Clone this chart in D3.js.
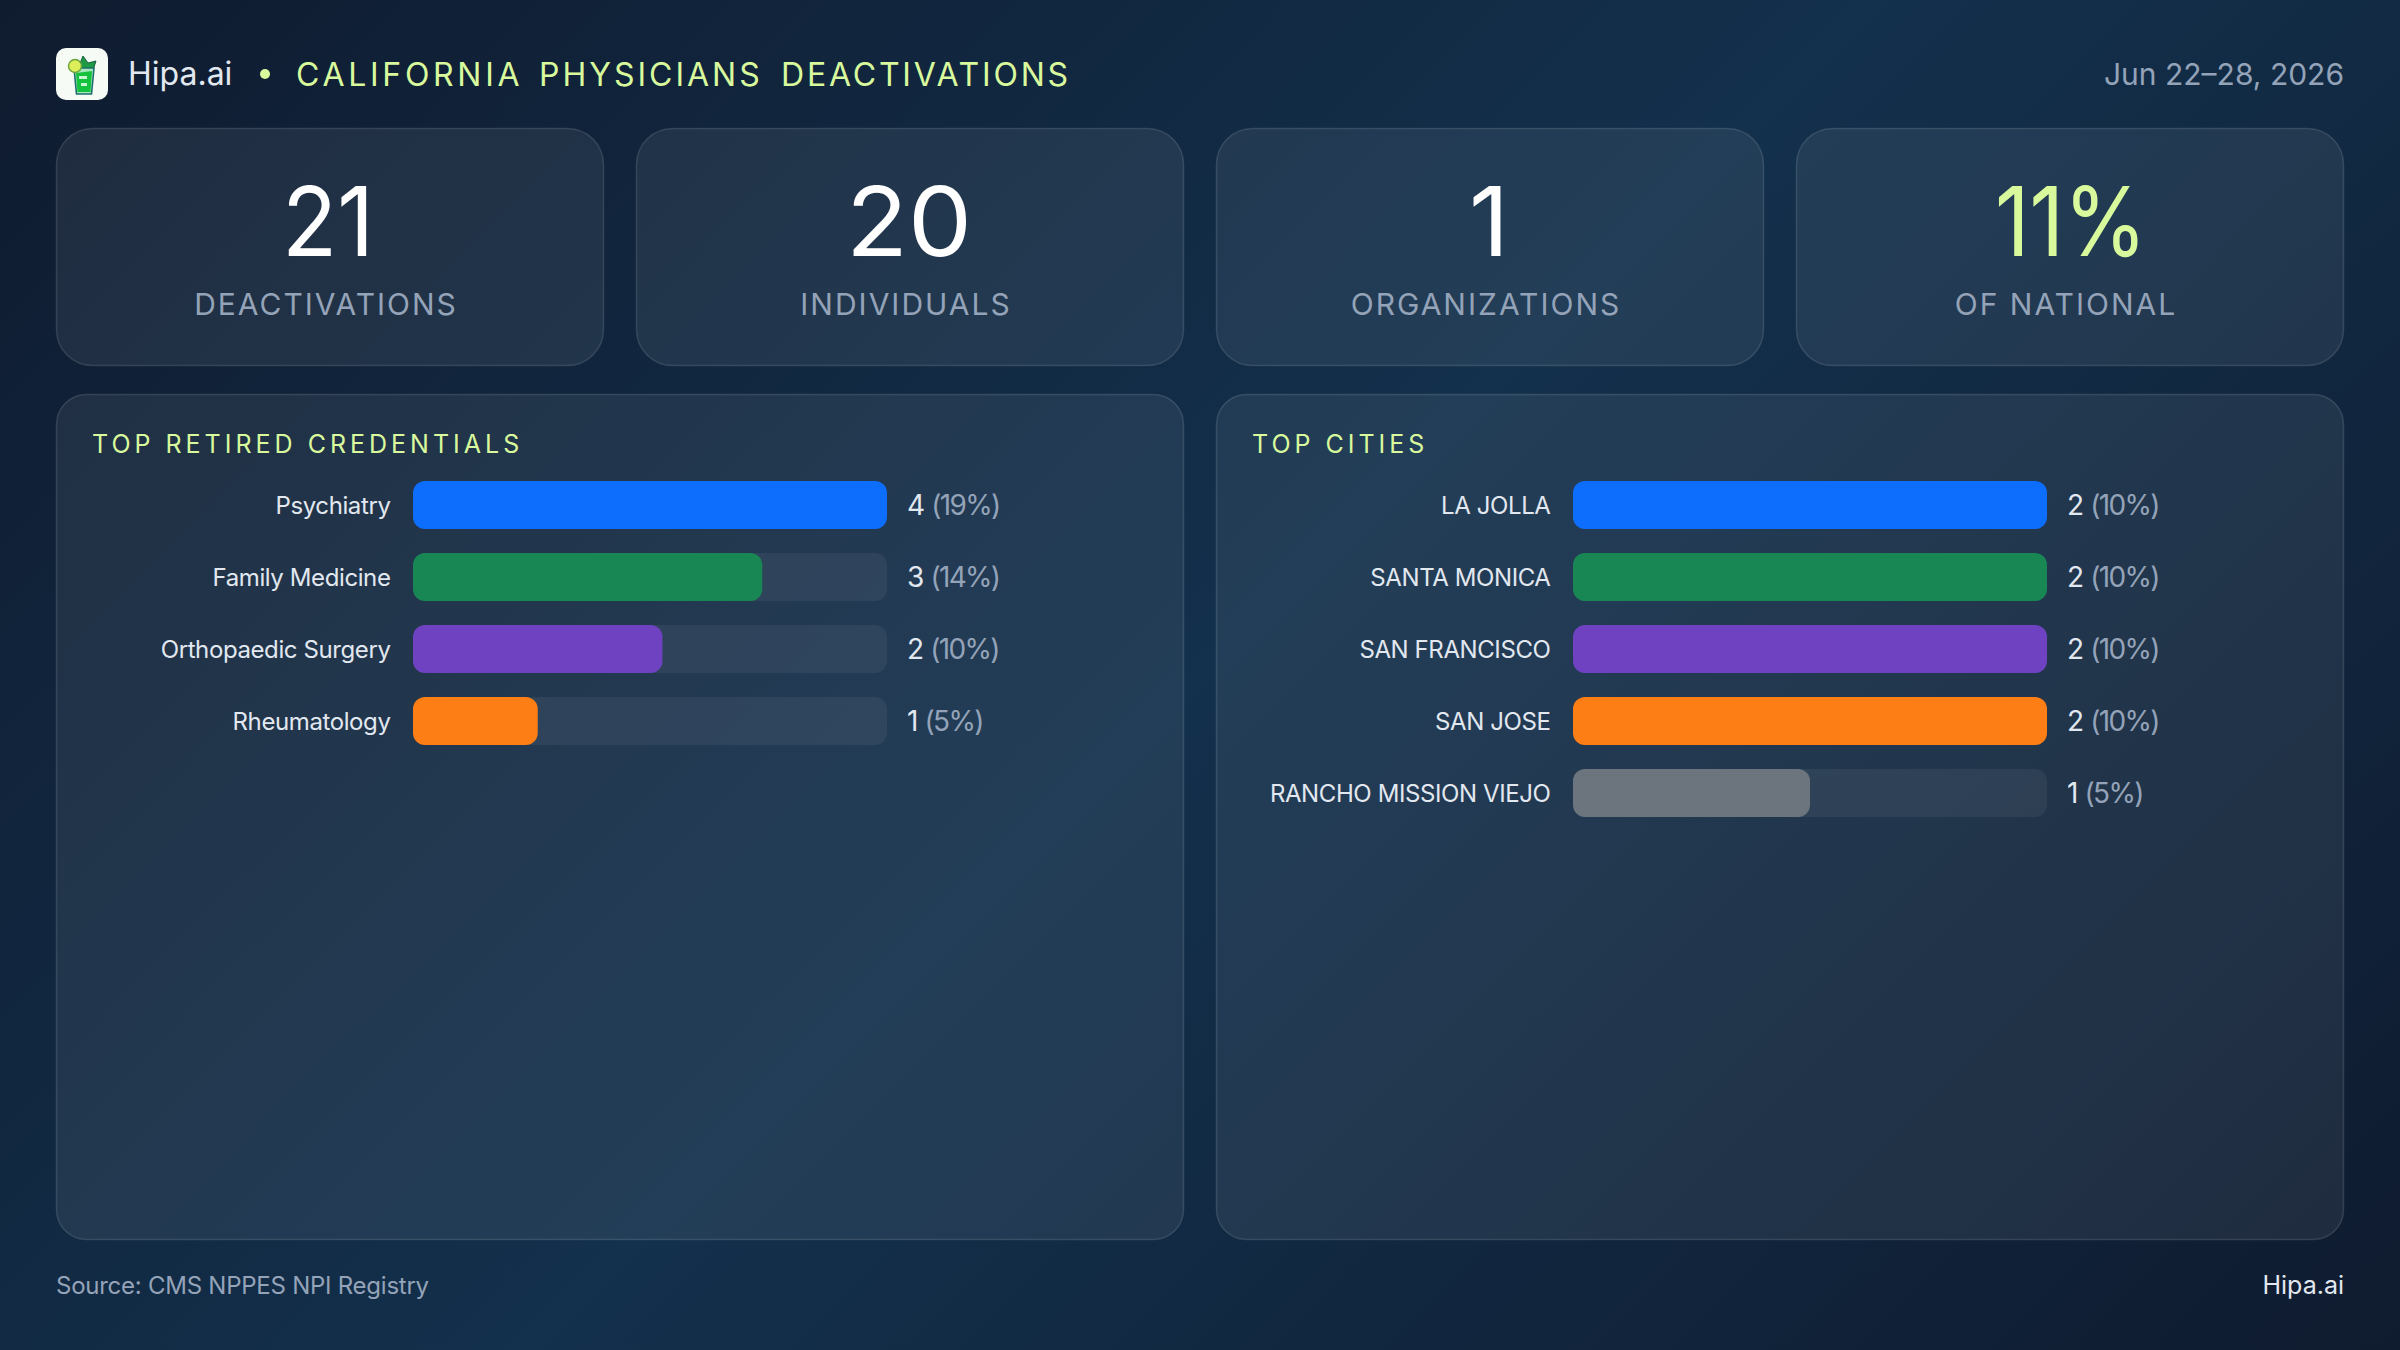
<!DOCTYPE html>
<html>
<head>
<meta charset="utf-8">
<script src="https://cdn.jsdelivr.net/npm/d3@7"></script>
<style>
html,body{margin:0;padding:0;background:#0f1c33;}
svg{display:block;}
text{font-family:Inter,"Noto Sans",sans-serif;}
</style>
</head>
<body>
<svg id="chart" width="2400" height="1350"></svg>
<script>
// Weekly summary figures
const statValues = ["21", "20", "1", "11%"];
const statLabels = ["DEACTIVATIONS", "INDIVIDUALS", "ORGANIZATIONS", "OF NATIONAL"];

const credentialNames = ["Psychiatry", "Family Medicine", "Orthopaedic Surgery", "Rheumatology"];
const credentialCounts = [4, 3, 2, 1];
const credentialShares = [19, 14, 10, 5];

const cityNames = ["LA JOLLA", "SANTA MONICA", "SAN FRANCISCO", "SAN JOSE", "RANCHO MISSION VIEJO"];
const cityCounts = [2, 2, 2, 2, 1];
const cityShares = [10, 10, 10, 10, 5];

const barColors = ["#0d6efd", "#198754", "#6f42c1", "#fd7e14", "#6c757d"];

const lime = "#d9f99d", slate = "#94a3b8", pale = "#e2e8f0";

const svg = d3.select("#chart");
const defs = svg.append("defs");

// Page background: a 135° band that brightens through the middle
const bg = defs.append("linearGradient").attr("id", "bg")
  .attr("gradientUnits", "userSpaceOnUse")
  .attr("x1", 262.5).attr("y1", -262.5).attr("x2", 2137.5).attr("y2", 1612.5);
bg.selectAll("stop").data([["0%", "#0f1b2f"], ["50%", "#13304c"], ["100%", "#0f1b2f"]]).join("stop")
  .attr("offset", d => d[0]).attr("stop-color", d => d[1]);
svg.append("rect").attr("width", 2400).attr("height", 1350).attr("fill", "url(#bg)");

const glass = "rgba(255,255,255,0.07)", glassEdge = "rgba(255,255,255,0.13)";

function panel(x, y, w, h, r) {
  return svg.append("rect").attr("x", x + .5).attr("y", y + .5)
    .attr("width", w - 1).attr("height", h - 1).attr("rx", r)
    .attr("fill", glass).attr("stroke", glassEdge).attr("stroke-width", 1.5);
}

// Header: logo tile with a small drink icon
const logo = svg.append("g");
logo.append("rect").attr("x", 56).attr("y", 48).attr("width", 52).attr("height", 52).attr("rx", 10).attr("fill", "#f7fbf6");
logo.append("path").attr("d", "M78 68 L83 56 L88 63 L96 61 L93 70 Z").attr("fill", "#1f9a45").attr("stroke", "#17603f").attr("stroke-width", 1);
logo.append("path").attr("d", "M74 68 L94 68 L91.500 94 L76.500 94 Z").attr("fill", "#a8e6c0").attr("stroke", "#1b6f6a").attr("stroke-width", 1.6);
logo.append("path").attr("d", "M76 73 L92 71 L90.500 92 L77.500 92 Z").attr("fill", "#14c23e");
logo.append("rect").attr("x", 79).attr("y", 76).attr("width", 8).attr("height", 3).attr("fill", "#c6f7d0");
logo.append("rect").attr("x", 81).attr("y", 83).attr("width", 6).attr("height", 3).attr("fill", "#c6f7d0");
logo.append("circle").attr("cx", 75).attr("cy", 66).attr("r", 6.5).attr("fill", "#dcef5a").attr("stroke", "#6aa33a").attr("stroke-width", 1.4);

svg.append("text").attr("x", 128).attr("y", 85).attr("font-size", 32).attr("fill", pale).text("Hipa.ai");
svg.append("circle").attr("cx", 265).attr("cy", 74).attr("r", 5).attr("fill", lime);

const titleWords = ["CALIFORNIA", "PHYSICIANS", "DEACTIVATIONS"];
const titleText = svg.append("text").attr("y", 86).attr("font-size", 32).attr("fill", lime);
titleText.selectAll("tspan").data(titleWords).join("tspan")
  .attr("x", (d, i) => [296, 539, 781][i])
  .attr("letter-spacing", (d, i) => [3.7, 3.0, 2.8][i])
  .text(d => d);

svg.append("text").attr("x", 2344).attr("y", 85).attr("text-anchor", "end").attr("font-size", 30).attr("fill", slate).text("Jun 22–28, 2026");

// Summary cards: each figure is fitted to a set width
const cardX = d3.scaleBand().domain(d3.range(statValues.length)).range([56, 2344]).paddingInner(32 / 580);
const statWidths = [92, 126, 40, 152];
const statNudge = [-2, -1, -1, 1];
statValues.forEach((v, i) => {
  const x = cardX(i), w = cardX.bandwidth();
  panel(x, 128, w, 238, 36);
  svg.append("text").attr("x", x + w / 2 + statNudge[i]).attr("y", 256).attr("text-anchor", "middle")
    .attr("font-size", 96).attr("textLength", statWidths[i]).attr("lengthAdjust", "spacingAndGlyphs")
    .attr("fill", i === 3 ? lime : "#ffffff").text(v);
  svg.append("text").attr("x", x + w / 2 - 4).attr("y", 315).attr("text-anchor", "middle")
    .attr("font-size", 30).attr("letter-spacing", 2).attr("fill", slate).text(statLabels[i]);
});

// Horizontal bar panels: the bar length follows the share, scaled to the largest share
function barPanel(left, title, names, counts, shares) {
  panel(left, 394, 1128, 846, 30);
  svg.append("text").attr("x", left + 36).attr("y", 453).attr("font-size", 25).attr("letter-spacing", 4).attr("fill", lime).text(title);

  const x = d3.scaleLinear().domain([0, d3.max(shares)]).range([0, 474]);
  const y = d3.scaleBand().domain(d3.range(5)).range([481, 817]).paddingInner(1 / 3);
  const x0 = left + 357;

  const rows = svg.append("g").selectAll("g").data(names).join("g")
    .attr("transform", (d, i) => `translate(0,${y(i)})`);
  rows.append("rect").attr("x", x0).attr("width", x.range()[1]).attr("height", y.bandwidth()).attr("rx", 12).attr("fill", "rgba(255,255,255,0.06)");
  rows.append("rect").attr("x", x0).attr("width", (d, i) => x(shares[i])).attr("height", y.bandwidth()).attr("rx", 12).attr("fill", (d, i) => barColors[i]);
  rows.append("text").attr("x", x0 - 22.5).attr("y", 33).attr("text-anchor", "end").attr("font-size", 24).attr("letter-spacing", -0.4).attr("fill", pale).text(d => d);
  const val = rows.append("text").attr("x", x0 + x.range()[1] + 20).attr("y", 34).attr("font-size", 28);
  val.append("tspan").attr("fill", pale).text((d, i) => counts[i]);
  val.append("tspan").attr("fill", slate).attr("letter-spacing", -1.7).text((d, i) => ` (${shares[i]}%)`);
}
barPanel(56, "TOP RETIRED CREDENTIALS", credentialNames, credentialCounts, credentialShares);
barPanel(1216, "TOP CITIES", cityNames, cityCounts, cityShares);

// Footer
svg.append("text").attr("x", 56).attr("y", 1294).attr("font-size", 24).attr("letter-spacing", -0.25).attr("fill", slate).text("Source: CMS NPPES NPI Registry");
svg.append("text").attr("x", 2344).attr("y", 1294).attr("text-anchor", "end").attr("font-size", 25).attr("fill", pale).text("Hipa.ai");
</script>
</body>
</html>
